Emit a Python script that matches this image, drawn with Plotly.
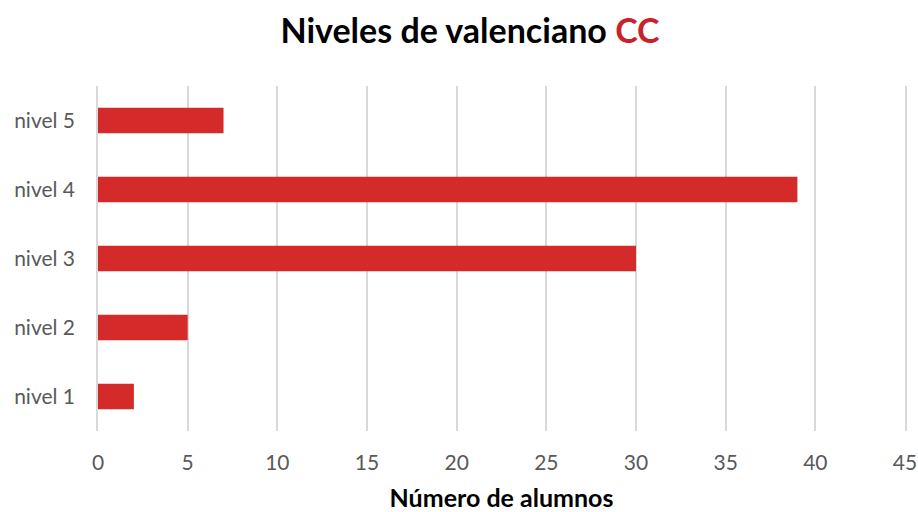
import plotly.graph_objects as go

categories = ["nivel 1", "nivel 2", "nivel 3", "nivel 4", "nivel 5"]
values = [2, 5, 30, 39, 7]
x_ticks = [0, 5, 10, 15, 20, 25, 30, 35, 40, 45]

FONT = "Lato, Carlito, Calibri, sans-serif"

fig = go.Figure(go.Bar(
    y=categories, x=values, orientation="h",
    marker=dict(color="#d52a2a", line=dict(width=0)),
))

fig.update_layout(
    width=918, height=512,
    margin=dict(l=98, r=13, t=86, b=81, autoexpand=False),
    paper_bgcolor="white", plot_bgcolor="white",
    bargap=0.63,
    showlegend=False,
    title=dict(
        text="<b>Niveles de valenciano <span style='color:#c8232c'>CC</span></b>",
        x=0.512, xanchor="center", y=0.94, yanchor="middle",
        font=dict(family=FONT, size=34, color="#000000"),
    ),
    font=dict(family=FONT, color="#595959"),
)

fig.update_xaxes(
    range=[0, 45], tickvals=x_ticks, ticktext=[str(v) for v in x_ticks],
    showgrid=True, gridcolor="#d9d9d9", gridwidth=1.5,
    zeroline=False, showline=False, automargin=False,
    ticks="", ticklabelstandoff=17,
    tickfont=dict(family=FONT, size=21, color="#595959"),
    title=dict(text="<b>Número de alumnos</b>", standoff=16,
               font=dict(family=FONT, size=25, color="#000000")),
)
fig.update_yaxes(
    categoryorder="array", categoryarray=categories,
    showgrid=False, zeroline=False,
    showline=True, mirror=True, linecolor="#d9d9d9", linewidth=1.5,
    automargin=False,
    ticks="", ticklabelstandoff=17,
    tickfont=dict(family=FONT, size=21, color="#595959"),
)

fig.write_html("out.html", config={"displayModeBar": False},
               post_script="document.body.style.margin='0';")
